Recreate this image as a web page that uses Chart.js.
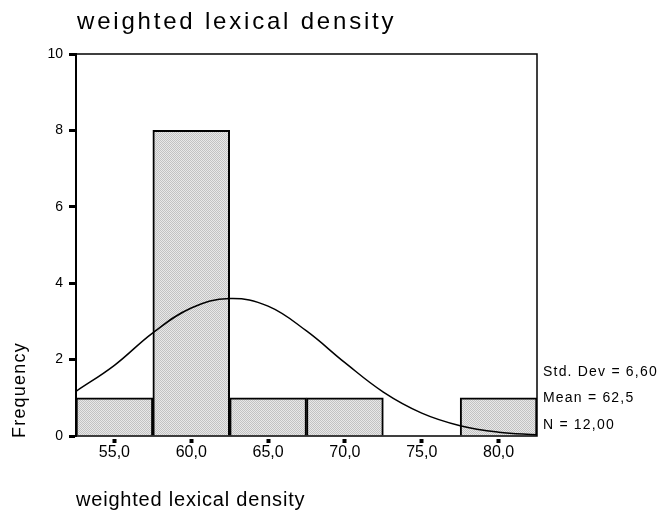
<!DOCTYPE html>
<html>
<head>
<meta charset="utf-8">
<script src="https://cdn.jsdelivr.net/npm/chart.js@4.4.1/dist/chart.umd.min.js"></script>
<style>
  html, body { margin: 0; padding: 0; background: #fff; }
  #wrap { width: 662px; height: 514px; }
</style>
</head>
<body>
<div id="wrap"><canvas id="hist" width="662" height="514"></canvas></div>
<script>
// histogram bins (centres) and counts
const binCentres = [55, 60, 65, 70, 75, 80]
const binCounts = [1, 8, 1, 1, 0, 1]
// normal curve
const curveX = [52.5, 55, 57.5, 60, 62.5, 65, 67.5, 70, 72.5, 75, 77.5, 80, 82.5]
const curveY = [1.17, 1.85, 2.7, 3.35, 3.6, 3.4, 2.75, 1.92, 1.15, 0.6, 0.27, 0.1, 0.03]
const xTicks = [55, 60, 65, 70, 75, 80]
const yTicks = [0, 2, 4, 6, 8, 10]
const statLines = ['Std. Dev = 6,60', 'Mean = 62,5', 'N = 12,00']

const FONT = '"Liberation Sans", Arial, sans-serif'

// dotted grey fill like the SPSS pattern
const makePattern = () => {
  const c = document.createElement('canvas')
  c.width = 2
  c.height = 2
  const g = c.getContext('2d')
  g.fillStyle = '#e8e8e8'
  g.fillRect(0, 0, 2, 2)
  g.fillStyle = '#c2c2c2'
  g.fillRect(0, 0, 1, 1)
  g.fillRect(1, 1, 1, 1)
  return g.createPattern(c, 'repeat')
}

const decorations = {
  id: 'decorations',
  afterDraw (chart) {
    const { ctx, chartArea: a } = chart
    ctx.save()
    // frame
    ctx.strokeStyle = '#000'
    ctx.lineWidth = 1.5
    ctx.strokeRect(a.left, a.top, a.right - a.left, a.bottom - a.top)
    ctx.fillStyle = '#000'
    ctx.textAlign = 'left'
    ctx.textBaseline = 'alphabetic'
    // title
    ctx.font = '24px ' + FONT
    ctx.letterSpacing = '2.8px'
    ctx.fillText('weighted lexical density', 77, 29)
    // x axis title
    ctx.font = '20px ' + FONT
    ctx.letterSpacing = '0.8px'
    ctx.fillText('weighted lexical density', 76, 506)
    // y axis title
    ctx.save()
    ctx.translate(25, 438)
    ctx.rotate(-Math.PI / 2)
    ctx.font = '18px ' + FONT
    ctx.letterSpacing = '1.2px'
    ctx.fillText('Frequency', 0, 0)
    ctx.restore()
    // stats
    ctx.font = '14px ' + FONT
    ctx.letterSpacing = '1.2px'
    ctx.textBaseline = 'middle'
    const rows = [372, 398, 425]
    statLines.forEach((t, i) => ctx.fillText(t, 543, rows[i]))
    ctx.restore()
  }
}

const fill = makePattern()

new Chart(document.getElementById('hist'), {
  data: {
    datasets: [
      {
        type: 'line',
        data: curveX.map((x, i) => ({ x, y: curveY[i] })),
        borderColor: '#000',
        borderWidth: 1.5,
        pointRadius: 0,
        tension: 0.4,
        order: 0
      },
      {
        type: 'bar',
        data: binCentres.map((x, i) => ({ x, y: binCounts[i] })),
        backgroundColor: fill,
        borderColor: '#000',
        borderWidth: 2,
        barPercentage: 1,
        categoryPercentage: 1,
        order: 1
      }
    ]
  },
  options: {
    responsive: false,
    animation: false,
    layout: { padding: { left: 0, top: 54, right: 125, bottom: 0 } },
    plugins: { legend: { display: false }, tooltip: { enabled: false } },
    scales: {
      x: {
        type: 'linear',
        offset: false,
        min: 52.5,
        max: 82.5,
        afterBuildTicks: (s) => { s.ticks = xTicks.map(v => ({ value: v })) },
        afterFit: (s) => { s.height = 78 },
        border: { display: false },
        grid: {
          offset: false,
          drawOnChartArea: false,
          drawTicks: true,
          tickLength: 7,
          tickWidth: 4,
          tickBorderDash: [0, 3, 4, 20],
          color: '#000'
        },
        ticks: {
          color: '#000',
          font: { family: FONT, size: 16 },
          padding: 0,
          maxRotation: 0,
          callback: (v) => v.toFixed(1).replace('.', ',')
        }
      },
      y: {
        min: 0,
        max: 10,
        afterBuildTicks: (s) => { s.ticks = yTicks.map(v => ({ value: v })) },
        afterFit: (s) => { s.width = 76 },
        border: { display: true, color: '#000', width: 2 },
        grid: { drawOnChartArea: false, drawTicks: true, tickLength: 7, tickWidth: 3, color: '#000' },
        ticks: {
          color: '#000',
          font: { family: FONT, size: 14 },
          padding: 6
        }
      }
    }
  },
  plugins: [decorations]
})
</script>
</body>
</html>
